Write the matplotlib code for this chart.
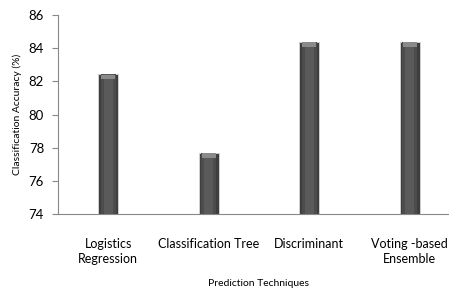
import matplotlib
matplotlib.use("Agg")
import matplotlib.pyplot as plt
import numpy as np

# values
techniques = ["Logistics\nRegression", "Classification Tree", "Discriminant", "Voting -based\nEnsemble"]
accuracy = [82.45, 77.7, 84.4, 84.4]
y_ticks = [74, 76, 78, 80, 82, 84, 86]

plt.rcParams['font.family'] = ['Lato', 'DejaVu Sans']

fig = plt.figure(figsize=(4.49, 2.89), dpi=100)
ax = fig.add_axes([58 / 449, 1 - 214 / 289, 402 / 449, 199 / 289])

x = np.arange(len(techniques))
base = y_ticks[0]
heights = [a - base for a in accuracy]

# layered bars fake the shaded cylinder look of the original
ax.bar(x, heights, bottom=base, width=0.2, color='#3e3e3e', edgecolor='#d8d8d8', linewidth=0.6, zorder=2)
ax.bar(x, heights, bottom=base, width=0.15, color='#4c4c4c', linewidth=0, zorder=3)
ax.bar(x, heights, bottom=base, width=0.09, color='#5a5a5a', linewidth=0, zorder=4)
# light bevel at the top of each bar
ax.bar(x, [0.25] * len(x), bottom=[a - 0.3 for a in accuracy], width=0.14,
       color='#8a8a8a', linewidth=0, zorder=5)

ax.set_xlim(-0.5, len(techniques) - 0.5)
ax.set_ylim(74, 86)
ax.set_yticks(y_ticks)
ax.set_yticklabels([str(t) for t in y_ticks], fontsize=9.5)
ax.set_xticks(x)
ax.set_xticklabels(techniques, fontsize=9, linespacing=1.35)
ax.tick_params(axis='x', length=0, pad=17)
ax.tick_params(axis='y', length=4, width=0.8, color='#888888', pad=6)

for side in ['top', 'right']:
    ax.spines[side].set_visible(False)
for side in ['left', 'bottom']:
    ax.spines[side].set_color('#888888')
    ax.spines[side].set_linewidth(0.8)

ax.set_ylabel("Classification Accuracy (%)", fontsize=7.5, labelpad=5)
ax.set_xlabel("Prediction Techniques", fontsize=7.5, labelpad=10)

fig.savefig("out.png", dpi=100)
